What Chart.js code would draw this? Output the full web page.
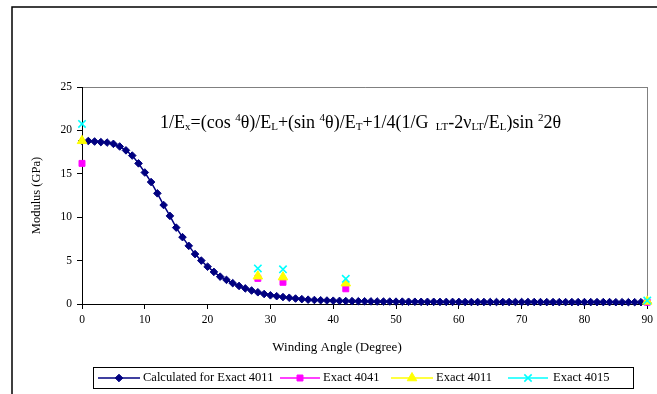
<!DOCTYPE html>
<html>
<head>
<meta charset="utf-8">
<script src="https://cdn.jsdelivr.net/npm/chart.js@4.4.0/dist/chart.umd.min.js"></script>
<style>
  html, body { margin: 0; padding: 0; background: #fff; }
  #wrap { width: 657px; height: 394px; position: relative; }
</style>
</head>
<body>
<div id="wrap"><canvas id="chart" width="657" height="394"></canvas></div>
<script>
// Dữ liệu
const angles = [0, 1, 2, 3, 4, 5, 6, 7, 8, 9, 10, 11, 12, 13, 14, 15, 16, 17, 18, 19, 20,
  21, 22, 23, 24, 25, 26, 27, 28, 29, 30, 31, 32, 33, 34, 35, 36, 37, 38, 39, 40,
  41, 42, 43, 44, 45, 46, 47, 48, 49, 50, 51, 52, 53, 54, 55, 56, 57, 58, 59, 60,
  61, 62, 63, 64, 65, 66, 67, 68, 69, 70, 71, 72, 73, 74, 75, 76, 77, 78, 79, 80,
  81, 82, 83, 84, 85, 86, 87, 88, 89, 90];
const calculated4011 = [18.80, 18.78, 18.72, 18.65, 18.60, 18.45, 18.15, 17.70, 17.10, 16.20, 15.15,
  14.05, 12.75, 11.40, 10.15, 8.80, 7.70, 6.70, 5.75, 5.00, 4.30,
  3.70, 3.15, 2.78, 2.40, 2.08, 1.80, 1.55, 1.35, 1.15, 1.00,
  0.90, 0.80, 0.72, 0.63, 0.56, 0.50, 0.46, 0.43, 0.40, 0.38,
  0.36, 0.34, 0.33, 0.32, 0.31, 0.30, 0.29, 0.28, 0.28, 0.27,
  0.27, 0.26, 0.26, 0.25, 0.25, 0.25, 0.24, 0.24, 0.24, 0.24,
  0.23, 0.23, 0.23, 0.23, 0.23, 0.23, 0.23, 0.23, 0.23, 0.23,
  0.23, 0.23, 0.22, 0.22, 0.22, 0.22, 0.22, 0.22, 0.22, 0.22,
  0.22, 0.22, 0.22, 0.22, 0.21, 0.21, 0.21, 0.21, 0.21, 0.21];

const exactAngles = [0, 28, 32, 42, 90];
const exact4041 = [16.2, 2.95, 2.5, 1.75, 0.2];
const exact4011 = [18.8, 3.2, 3.1, 2.4, 0.3];
const exact4015 = [20.75, 4.1, 4.0, 2.9, 0.4];

const xTicks = [0, 10, 20, 30, 40, 50, 60, 70, 80, 90];
const yTicks = [0, 5, 10, 15, 20, 25];

const serif = "'Liberation Serif', 'DejaVu Serif', serif";

function pts(xs, ys) {
  return xs.map((x, i) => ({ x: x, y: ys[i] }));
}

// Công thức + khung + chú thích
const extras = {
  id: 'extras',
  afterDraw(chart) {
    const ctx = chart.ctx;
    ctx.save();
    // khung ngoài
    ctx.strokeStyle = '#000';
    ctx.lineWidth = 1.5;
    ctx.beginPath();
    ctx.moveTo(12, 394);
    ctx.lineTo(12, 7);
    ctx.lineTo(657, 7);
    ctx.stroke();

    // công thức
    const parts = [
      ['1/E', 'n'], ['x', 'b'], ['=(cos ', 'n'], ['4', 'p'], ['\u03b8)/E', 'n'], ['L', 'b'],
      ['+(sin ', 'n'], ['4', 'p'], ['\u03b8)/E', 'n'], ['T', 'b'], ['+1/4(1/G ', 'n'],
      [' LT', 'b'], ['-2\u03bd', 'n'], ['LT', 'b'], ['/E', 'n'], ['L', 'b'],
      [')sin ', 'n'], ['2', 'p'], ['2\u03b8', 'n']
    ];
    let x = 160;
    const base = 128;
    ctx.fillStyle = '#000';
    ctx.textBaseline = 'alphabetic';
    ctx.textAlign = 'left';
    parts.forEach(p => {
      let y = base;
      if (p[1] === 'n') ctx.font = '18px ' + serif;
      else ctx.font = '11px ' + serif;
      if (p[1] === 'b') y = base + 2;
      if (p[1] === 'p') y = base - 7;
      ctx.fillText(p[0], x, y);
      x += ctx.measureText(p[0]).width;
    });

    // tên trục x
    ctx.font = '13px ' + serif;
    ctx.textAlign = 'center';
    ctx.textBaseline = 'middle';
    ctx.fillText('Winding Angle (Degree)', 337, 348);

    // chú thích
    ctx.lineWidth = 1;
    ctx.strokeStyle = '#000';
    ctx.strokeRect(93.5, 367.5, 540, 21);
    const items = [
      { ds: 0, x1: 98, x2: 140, tx: 143, label: 'Calculated for Exact 4011' },
      { ds: 1, x1: 280, x2: 320, tx: 323, label: 'Exact 4041' },
      { ds: 2, x1: 391, x2: 433, tx: 436, label: 'Exact 4011' },
      { ds: 3, x1: 508, x2: 548, tx: 553, label: 'Exact 4015' }
    ];
    const ly = 378;
    items.forEach(it => {
      const d = chart.data.datasets[it.ds];
      ctx.strokeStyle = d.borderColor;
      ctx.lineWidth = 1.5;
      ctx.beginPath();
      ctx.moveTo(it.x1, ly);
      ctx.lineTo(it.x2, ly);
      ctx.stroke();
      ctx.fillStyle = d.pointBackgroundColor;
      ctx.strokeStyle = d.pointBorderColor;
      ctx.lineWidth = d.pointBorderWidth || 1;
      Chart.helpers.drawPoint(ctx, {
        pointStyle: d.pointStyle, radius: d.pointRadius, rotation: 0,
        borderWidth: d.pointBorderWidth || 1
      }, (it.x1 + it.x2) / 2, ly);
      ctx.fillStyle = '#000';
      ctx.font = '12.5px ' + serif;
      ctx.textAlign = 'left';
      ctx.textBaseline = 'middle';
      ctx.fillText(it.label, it.tx, ly);
    });
    ctx.restore();
  }
};

const ctx = document.getElementById('chart').getContext('2d');
window.myChart = new Chart(ctx, {
  type: 'line',
  data: {
    datasets: [
      {
        label: 'Calculated for Exact 4011',
        data: pts(angles, calculated4011),
        borderColor: '#000080', backgroundColor: '#000080',
        pointBackgroundColor: '#000080', pointBorderColor: '#000080',
        borderWidth: 1.5, pointStyle: 'rectRot', pointRadius: 3.8, pointBorderWidth: 1,
        clip: false, order: 4
      },
      {
        label: 'Exact 4041',
        data: pts(exactAngles, exact4041),
        borderColor: '#FF00FF', backgroundColor: '#FF00FF',
        pointBackgroundColor: '#FF00FF', pointBorderColor: '#FF00FF',
        showLine: false, pointStyle: 'rect', pointRadius: 4.2, pointBorderWidth: 1,
        clip: false, order: 3
      },
      {
        label: 'Exact 4011',
        data: pts(exactAngles, exact4011),
        borderColor: '#FFFF00', backgroundColor: '#FFFF00',
        pointBackgroundColor: '#FFFF00', pointBorderColor: '#FFFF00',
        showLine: false, pointStyle: 'triangle', pointRadius: 5.5, pointBorderWidth: 1,
        clip: false, order: 2
      },
      {
        label: 'Exact 4015',
        data: pts(exactAngles, exact4015),
        borderColor: '#00FFFF', backgroundColor: '#00FFFF',
        pointBackgroundColor: '#00FFFF', pointBorderColor: '#00FFFF',
        showLine: false, pointStyle: 'crossRot', pointRadius: 5.2, pointBorderWidth: 1.6,
        clip: false, order: 1
      }
    ]
  },
  options: {
    responsive: false,
    animation: false,
    layout: { padding: { left: 0, right: 9, top: 87, bottom: 0 } },
    plugins: {
      legend: { display: false },
      tooltip: { enabled: false }
    },
    scales: {
      x: {
        type: 'linear', min: 0, max: 90,
        afterBuildTicks: s => { s.ticks = xTicks.map(v => ({ value: v })); },
        afterFit: s => { s.height = 90; },
        border: { color: '#000', width: 1 },
        grid: {
          color: c => (c.tick && c.tick.value === 90 ? '#808080' : 'rgba(0,0,0,0)'),
          tickColor: '#000', tickLength: 5, drawOnChartArea: true
        },
        ticks: { color: '#000', font: { family: serif, size: 11.5 }, padding: 4, maxRotation: 0 }
      },
      y: {
        min: 0, max: 25,
        afterBuildTicks: s => { s.ticks = yTicks.map(v => ({ value: v })); },
        afterFit: s => { s.width = 82; },
        border: { color: '#000', width: 1 },
        grid: {
          color: c => (c.tick && c.tick.value === 25 ? '#808080' : 'rgba(0,0,0,0)'),
          tickColor: '#000', tickLength: 5
        },
        ticks: { color: '#000', font: { family: serif, size: 11.5 }, padding: 5 },
        title: {
          display: true, text: 'Modulus (GPa)', color: '#000',
          font: { family: serif, size: 12.5 }, padding: { top: 29, bottom: 0 }
        }
      }
    }
  },
  plugins: [extras]
});
</script>
</body>
</html>
